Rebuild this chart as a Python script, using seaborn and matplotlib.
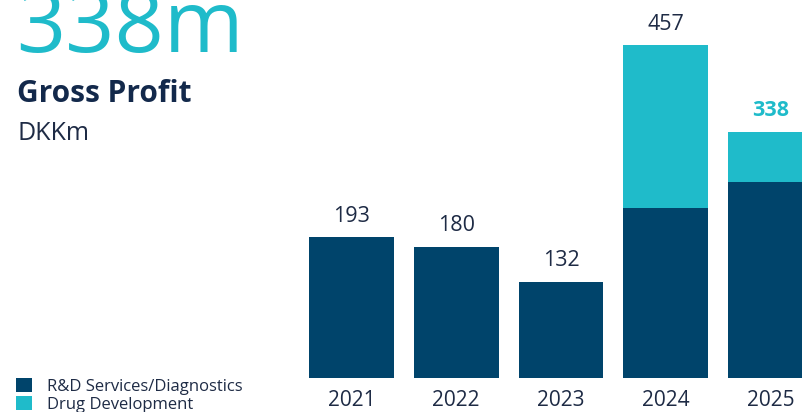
import matplotlib
matplotlib.use("Agg")
import matplotlib.pyplot as plt
import seaborn as sns
import pandas as pd
from matplotlib.patches import Patch

years = ["2021", "2022", "2023", "2024", "2025"]
rd_services = [193, 180, 132, 233, 269]
drug_development = [0, 0, 0, 224, 69]
totals = [a + b for a, b in zip(rd_services, drug_development)]
series_names = ["R&D Services/Diagnostics", "Drug Development"]
headline = "338m"
title = "Gross Profit"
unit = "DKKm"

NAVY = "#00446B"
TEAL = "#1FBBCA"
TXT = "#1E2B45"
FONT = ["Open Sans", "DejaVu Sans"]

sns.set_theme(style="white")
plt.rcParams["font.family"] = FONT

W, H = 803, 412
fig = plt.figure(figsize=(W / 100, H / 100), dpi=100)
ax = fig.add_axes([299 / W, 34 / H, (W - 299) / W, 378 / H])

df = pd.DataFrame({"year": years, "rd": rd_services, "total": totals})
sns.barplot(data=df, x="year", y="total", color=TEAL, saturation=1, width=0.81,
            linewidth=0, ax=ax)
sns.barplot(data=df, x="year", y="rd", color=NAVY, saturation=1, width=0.81,
            linewidth=0, ax=ax)

ax.set_xlim(-0.5, 4.31)
ax.set_ylim(0, 518.5)
ax.set_xlabel("")
ax.set_ylabel("")
ax.set_yticks([])
sns.despine(ax=ax, left=True, bottom=True)
ax.tick_params(axis="x", length=0, pad=9, labelsize=15, labelcolor=TXT)

for i, t in enumerate(totals):
    last = i == len(totals) - 1
    ax.annotate(str(t), (i, t), xytext=(0, 11), textcoords="offset points",
                ha="center", va="baseline", fontsize=15.5,
                color=TEAL if last else TXT,
                fontweight="bold" if last else "normal")

fig.text(16 / W, 1 - 52 / H, headline, color=TEAL, fontsize=62,
         ha="left", va="baseline")
fig.text(17 / W, 1 - 102 / H, title, color="#13294B", fontsize=21.5,
         fontweight="bold", ha="left", va="baseline")
fig.text(17 / W, 1 - 140 / H, unit, color=TXT, fontsize=18,
         ha="left", va="baseline")

handles = [Patch(facecolor=NAVY, edgecolor="none"), Patch(facecolor=TEAL, edgecolor="none")]
leg = fig.legend(handles, series_names, loc="lower left",
                 bbox_to_anchor=(16 / W, -1 / H), frameon=False,
                 fontsize=12, handlelength=0.95, handleheight=0.95,
                 handletextpad=0.9, labelspacing=0.08, borderpad=0,
                 borderaxespad=0)
for t in leg.get_texts():
    t.set_color(TXT)

fig.savefig("out.png", dpi=100)
